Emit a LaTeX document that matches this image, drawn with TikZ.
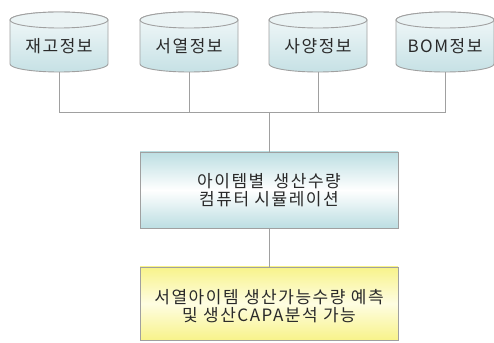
\documentclass[tikz,border=0pt]{standalone}
\usepackage{fontspec}
\newfontfamily\kr[LetterSpace=9]{Noto Sans CJK KR}
\definecolor{linegray}{HTML}{A0A0A0}
\definecolor{cylbot}{HTML}{C6E1E5}
\definecolor{cyltop}{HTML}{F4F9FA}
\definecolor{cylcap}{HTML}{EAF3F4}
\definecolor{boxteal}{HTML}{BCDEE2}
\definecolor{boxyel}{HTML}{F8F38A}
\definecolor{boxyelmid}{HTML}{FEFDE2}
\definecolor{txt}{HTML}{2A2A2A}
\tikzset{
  conn/.style={draw=linegray, line width=0.9pt},
  lbl/.style={font=\kr\fontsize{17}{18}\selectfont, text=txt, align=center, inner sep=0pt},
  boxshape/.style={draw=linegray, line width=0.9pt, minimum width=258pt, inner sep=0pt},
}
\newcommand\dbcyl[3]{%
  \path[shade, top color=cyltop, bottom color=cylbot, draw=linegray, line width=0.9pt]
    (#2-49,322) -- (#2-49,278) arc[start angle=180, end angle=360, x radius=49, y radius=8]
    -- (#2+49,322) arc[start angle=0, end angle=180, x radius=49, y radius=8] -- cycle;
  \path[fill=cylcap, draw=linegray, line width=0.9pt] (#2,322) ellipse[x radius=49, y radius=8];
  \node[lbl] (#1) at (#2,296) {#3};
  \coordinate (#1b) at (#2,270);
}
\begin{document}
\begin{tikzpicture}[x=1pt,y=1pt]
\useasboundingbox (0,0) rectangle (494,342);
\dbcyl{c1}{59}{재고정보}
\dbcyl{c2}{189}{서열정보}
\dbcyl{c3}{318}{사양정보}
\dbcyl{c4}{445}{BOM정보}
\coordinate (j1) at (59,230);
\coordinate (j4) at (445,230);
\coordinate (jm) at (269,230);
\draw[conn] (c1b) -- (j1) -- (j4) -- (c4b);
\draw[conn] (c2b) -- (c2b |- j1);
\draw[conn] (c3b) -- (c3b |- j1);
\node[boxshape, minimum height=76pt, shade, top color=boxteal, bottom color=boxteal, middle color=white] (sim) at (269,152) {};
\node[lbl] at (sim.center) {아이템별\hspace{0.55em}생산수량\\컴퓨터 시뮬레이션};
\node[boxshape, minimum height=73pt, shade, top color=boxyel, bottom color=boxyel, middle color=boxyelmid] (res) at (269,38.5) {};
\node[lbl] at (269,35.5) {서열아이템 생산가능수량 예측\\및 생산CAPA분석 가능};
\draw[conn] (jm) -- (sim.north);
\draw[conn] (sim.south) -- (res.north);
\end{tikzpicture}
\end{document}
